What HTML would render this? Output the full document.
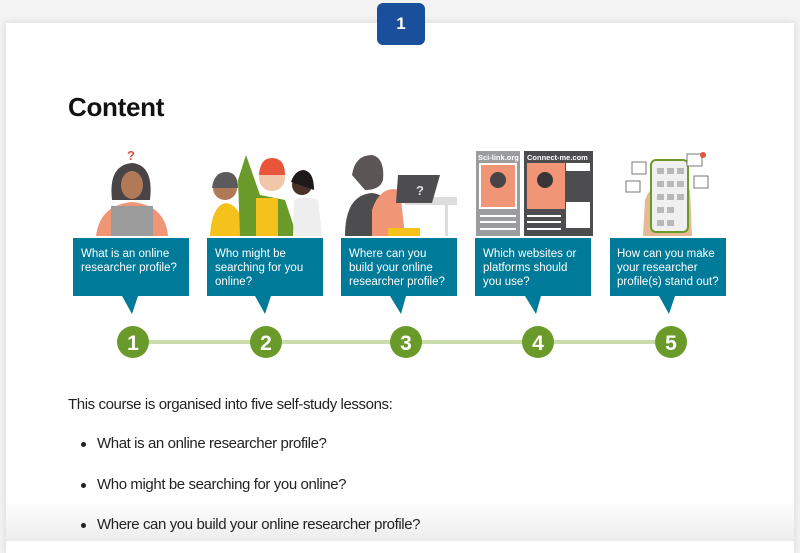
<!DOCTYPE html>
<html><head><meta charset="utf-8"><style>
body{margin:0;width:800px;height:541px;overflow:hidden;background:#f3f3f3;font-family:"Liberation Sans",sans-serif;position:relative}
.card{position:absolute;left:6px;top:23px;width:788px;height:530px;background:#fff;box-shadow:0 0 8px rgba(0,0,0,.12)}
.badge{position:absolute;left:377px;top:3px;width:48px;height:42px;background:#1a4f9c;border-radius:6px;color:#fff;font-weight:bold;font-size:17px;text-align:center;line-height:42px}
h1{position:absolute;left:68px;top:92px;margin:0;font-size:26px;font-weight:bold;color:#111;letter-spacing:-.3px}
.p{position:absolute;left:68px;font-size:15px;color:#222;letter-spacing:-.4px}
.li{position:absolute;left:97px;font-size:15px;color:#222;letter-spacing:-.4px}
.dot{position:absolute;left:81px;width:5px;height:5px;border-radius:50%;background:#222}
.fade{position:absolute;left:6px;top:500px;width:788px;height:41px;background:linear-gradient(rgba(255,255,255,0),rgba(232,232,232,.8))}
</style></head><body>
<div class="card"></div>
<div class="fade"></div>
<div class="badge">1</div>
<h1>Content</h1>
<svg style="position:absolute;left:0;top:0" width="800" height="380" font-family="Liberation Sans, sans-serif">
<line x1="133" y1="342" x2="671" y2="342" stroke="#c9dcaa" stroke-width="4"/>
<g fill="#007a99">
<rect x="73" y="238" width="116" height="58"/><polygon points="122,296 138,296 132,314"/>
<rect x="207" y="238" width="116" height="58"/><polygon points="255,296 271,296 265,314"/>
<rect x="341" y="238" width="116" height="58"/><polygon points="390,296 406,296 401,314"/>
<rect x="475" y="238" width="116" height="58"/><polygon points="525,296 541,296 536,314"/>
<rect x="610" y="238" width="116" height="58"/><polygon points="659,296 675,296 669,314"/>
</g>
<g fill="#fff" font-size="11.5">
<text x="81" y="257">What is an online</text><text x="81" y="271">researcher profile?</text>
<text x="215" y="257">Who might be</text><text x="215" y="271">searching for you</text><text x="215" y="285">online?</text>
<text x="349" y="257">Where can you</text><text x="349" y="271">build your online</text><text x="349" y="285">researcher profile?</text>
<text x="483" y="257">Which websites or</text><text x="483" y="271">platforms should</text><text x="483" y="285">you use?</text>
<text x="617" y="257">How can you make</text><text x="617" y="271">your researcher</text><text x="617" y="285">profile(s) stand out?</text>
</g>
<g fill="#6a9a2a"><circle cx="133" cy="342" r="16"/><circle cx="266" cy="342" r="16"/><circle cx="406" cy="342" r="16"/><circle cx="538" cy="342" r="16"/><circle cx="671" cy="342" r="16"/></g>
<g fill="#fff" font-size="21" font-weight="bold" text-anchor="middle">
<text x="133" y="350">1</text><text x="266" y="350">2</text><text x="406" y="350">3</text><text x="538" y="350">4</text><text x="671" y="350">5</text></g>
<text x="131" y="160" fill="#e2533b" font-size="13" font-weight="bold" text-anchor="middle">?</text>
<path d="M112 200 Q108 165 132 163 Q154 165 150 200Z" fill="#4a4446"/>
<ellipse cx="132" cy="185" rx="11" ry="14" fill="#b07a58"/>
<path d="M96 236 Q100 205 132 202 Q165 205 168 236Z" fill="#f09677"/>
<rect x="111" y="206" width="42" height="30" fill="#9b9b9b"/>
<path d="M210 236 Q212 205 226 203 Q242 205 245 236Z" fill="#f5c21b"/>
<circle cx="225" cy="188" r="12" fill="#b07a58"/><path d="M212 188 Q214 172 226 172 Q238 172 238 188" fill="#5b5b5b"/>
<path d="M240 236 L238 180 L246 155 L260 195 L285 200 L297 236Z" fill="#6a9a2a"/>
<rect x="256" y="198" width="22" height="38" fill="#f5c21b"/>
<circle cx="272" cy="178" r="13" fill="#f2c6a8"/><path d="M259 175 Q260 158 272 158 Q285 158 285 175" fill="#e8553b"/>
<path d="M293 236 L294 200 Q305 195 318 200 L322 236Z" fill="#eee"/>
<circle cx="302" cy="185" r="10" fill="#4a3228"/><path d="M291 182 Q295 170 304 170 Q314 172 314 190" fill="#1f1a1a"/>
<path d="M345 236 Q345 195 372 193 Q395 195 395 236Z" fill="#4d4d4f"/>
<path d="M372 210 Q380 185 400 190 L405 236 L372 236Z" fill="#f09677"/>
<path d="M352 175 Q355 155 372 155 Q385 158 383 180 Q380 190 365 190Z" fill="#5b5556"/>
<rect x="388" y="228" width="32" height="8" fill="#f5c21b"/>
<rect x="405" y="197" width="52" height="8" fill="#ddd"/><rect x="445" y="205" width="3" height="31" fill="#ddd"/>
<polygon points="398,175 440,175 432,203 396,203" fill="#4d4d4f"/><text x="416" y="195" fill="#ddd" font-size="13" font-weight="bold">?</text>
<rect x="476" y="151" width="44" height="85" fill="#9a9c9e"/><rect x="479" y="163" width="38" height="46" fill="#fff"/>
<rect x="481" y="165" width="34" height="42" fill="#f09677"/><circle cx="498" cy="180" r="8" fill="#4a4446"/>
<text x="478" y="160" fill="#fff" font-size="7.5" font-weight="bold">Sci-link.org</text>
<g fill="#fff"><rect x="480" y="215" width="36" height="2"/><rect x="480" y="221" width="36" height="2"/><rect x="480" y="228" width="36" height="2"/></g>
<rect x="524" y="151" width="69" height="85" fill="#4d4d4f"/><rect x="527" y="163" width="38" height="46" fill="#f09677"/><circle cx="545" cy="180" r="8" fill="#3a3536"/>
<rect x="566" y="163" width="24" height="8" fill="#fff"/><rect x="566" y="202" width="24" height="26" fill="#fff"/>
<text x="527" y="160" fill="#fff" font-size="7.5" font-weight="bold">Connect-me.com</text>
<g fill="#fff"><rect x="527" y="215" width="34" height="2"/><rect x="527" y="221" width="34" height="2"/><rect x="527" y="228" width="34" height="2"/></g>
<path d="M643 236 L645 200 Q650 185 660 190 L690 190 L692 236Z" fill="#e4b994"/>
<rect x="651" y="160" width="37" height="72" rx="5" fill="#f0f0f0" stroke="#6a9a2a" stroke-width="2"/>
<g fill="#b7b9bb"><rect x="657" y="168" width="7" height="6"/><rect x="667" y="168" width="7" height="6"/><rect x="677" y="168" width="7" height="6"/><rect x="657" y="181" width="7" height="6"/><rect x="667" y="181" width="7" height="6"/><rect x="677" y="181" width="7" height="6"/><rect x="657" y="194" width="7" height="6"/><rect x="667" y="194" width="7" height="6"/><rect x="677" y="194" width="7" height="6"/><rect x="657" y="207" width="7" height="6"/><rect x="667" y="207" width="7" height="6"/><rect x="657" y="220" width="7" height="6"/><rect x="667" y="220" width="7" height="6"/></g>
<g fill="#fff" stroke="#777"><rect x="632" y="162" width="14" height="12"/><rect x="626" y="181" width="14" height="11"/><rect x="687" y="154" width="15" height="12"/><rect x="694" y="176" width="14" height="12"/></g>
<circle cx="703" cy="155" r="3" fill="#e2533b"/>
</svg>
<div class="p" style="top:396px">This course is organised into five self-study lessons:</div>
<div class="dot" style="top:442px"></div><div class="li" style="top:435px">What is an online researcher profile?</div>
<div class="dot" style="top:483px"></div><div class="li" style="top:476px">Who might be searching for you online?</div>
<div class="dot" style="top:523px"></div><div class="li" style="top:516px">Where can you build your online researcher profile?</div>
</body></html>
